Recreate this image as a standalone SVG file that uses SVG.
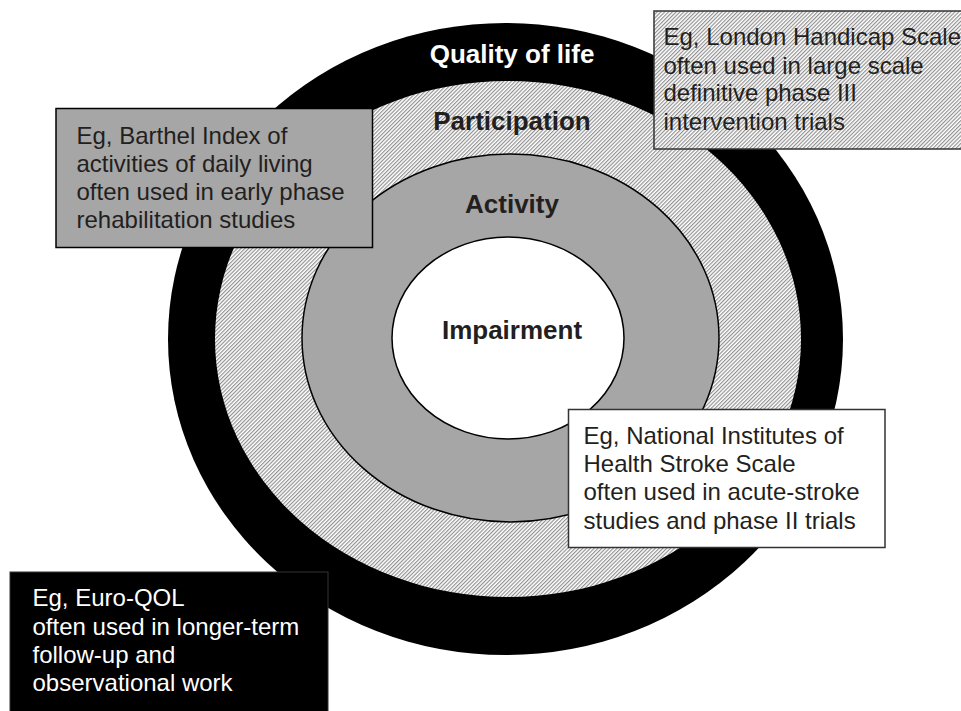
<svg xmlns="http://www.w3.org/2000/svg" width="961" height="711" viewBox="0 0 961 711">
  <defs>
    <pattern id="hatch" patternUnits="userSpaceOnUse" width="2.7" height="2.7" patternTransform="rotate(45)">
      <rect width="2.7" height="2.7" fill="#ffffff"/>
      <line x1="0.6" y1="0" x2="0.6" y2="2.7" stroke="#858585" stroke-width="1.05"/>
    </pattern>
  </defs>
  <style>
    .ring-label { font-family: "Liberation Sans", Arial, sans-serif; font-weight: bold; font-size: 26px; text-anchor: middle; fill: #231f20; }
    .box-text { font-family: "Liberation Sans", Arial, sans-serif; font-size: 24px; fill: #231f20; }
    .box-text-white { font-family: "Liberation Sans", Arial, sans-serif; font-size: 24px; fill: #ffffff; }
  </style>
  <rect width="961" height="711" fill="#ffffff"/>

  <g id="ring-quality-of-life">
    <ellipse cx="505.5" cy="339" rx="337.5" ry="316" fill="#000000"/>
    <text class="ring-label" x="512" y="63" style="fill:#ffffff">Quality of life</text>
  </g>
  <g id="ring-participation">
    <ellipse cx="508" cy="339" rx="293" ry="258" fill="url(#hatch)"/>
    <text class="ring-label" x="512" y="130">Participation</text>
  </g>
  <g id="ring-activity">
    <ellipse cx="510.5" cy="338" rx="208.5" ry="184" fill="#a6a6a6" stroke="#000000" stroke-width="1.5"/>
    <text class="ring-label" x="512" y="213">Activity</text>
  </g>
  <g id="ring-impairment">
    <ellipse cx="508" cy="338" rx="116" ry="101" fill="#ffffff" stroke="#000000" stroke-width="1.5"/>
    <text class="ring-label" x="512" y="339">Impairment</text>
  </g>

  <g id="connectors"/>

  <g id="box-london">
    <rect x="654" y="11" width="330" height="138" fill="url(#hatch)" stroke="#333333" stroke-width="1.5"/>
    <text class="box-text" x="663.5" y="45">Eg, London Handicap Scale</text>
    <text class="box-text" x="663.5" y="73.5">often used in large scale</text>
    <text class="box-text" x="663.5" y="101">definitive phase III</text>
    <text class="box-text" x="663.5" y="130">intervention trials</text>
  </g>
  <g id="box-barthel">
    <rect x="56" y="108.5" width="316.5" height="139" fill="#a6a6a6" stroke="#000000" stroke-width="1.5"/>
    <text class="box-text" x="76.5" y="143.5">Eg, Barthel Index of</text>
    <text class="box-text" x="76.5" y="171.5">activities of daily living</text>
    <text class="box-text" x="76.5" y="200">often used in early phase</text>
    <text class="box-text" x="76.5" y="227.5">rehabilitation studies</text>
  </g>
  <g id="box-nihss">
    <rect x="568.5" y="409.5" width="316.5" height="138" fill="#ffffff" stroke="#333333" stroke-width="1.5"/>
    <text class="box-text" x="583.5" y="443.5">Eg, National Institutes of</text>
    <text class="box-text" x="583.5" y="472">Health Stroke Scale</text>
    <text class="box-text" x="583.5" y="500">often used in acute-stroke</text>
    <text class="box-text" x="583.5" y="528.5">studies and phase II trials</text>
  </g>
  <g id="box-euroqol">
    <rect x="10" y="572" width="318" height="150" fill="#000000" stroke="#333333" stroke-width="1"/>
    <text class="box-text-white" x="32.5" y="606">Eg, Euro-QOL</text>
    <text class="box-text-white" x="32.5" y="634.5">often used in longer-term</text>
    <text class="box-text-white" x="32.5" y="662.5">follow-up and</text>
    <text class="box-text-white" x="32.5" y="690.5">observational work</text>
  </g>
</svg>
